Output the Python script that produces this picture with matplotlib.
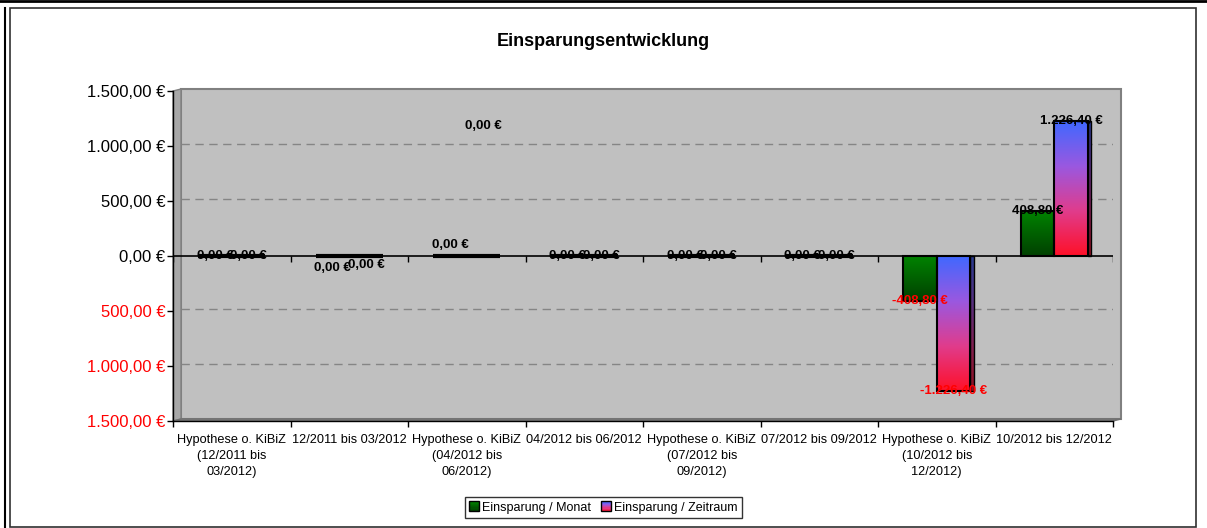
import numpy as np
import matplotlib
matplotlib.use('Agg')
import matplotlib.pyplot as plt
from matplotlib.patches import Rectangle, Polygon, Patch
from matplotlib.lines import Line2D
from matplotlib.legend_handler import HandlerBase
from matplotlib.colors import LinearSegmentedColormap
import matplotlib.transforms as mtransforms

plt.rcParams['font.family'] = ['Liberation Sans', 'DejaVu Sans']

# ---------------- data ----------------
categories = [
    "Hypothese o. KiBiZ\n(12/2011 bis\n03/2012)",
    "12/2011 bis 03/2012",
    "Hypothese o. KiBiZ\n(04/2012 bis\n06/2012)",
    "04/2012 bis 06/2012",
    "Hypothese o. KiBiZ\n(07/2012 bis\n09/2012)",
    "07/2012 bis 09/2012",
    "Hypothese o. KiBiZ\n(10/2012 bis\n12/2012)",
    "10/2012 bis 12/2012",
]
series_names = ["Einsparung / Monat", "Einsparung / Zeitraum"]
monat = [0.0, 0.0, 0.0, 0.0, 0.0, 0.0, -408.80, 408.80]
zeitraum = [0.0, 0.0, 0.0, 0.0, 0.0, 0.0, -1226.40, 1226.40]
y_ticks = [-1500, -1000, -500, 0, 500, 1000, 1500]
title = "Einsparungsentwicklung"
# data-label positions that in the reference are not at the bar end
label_pos_override = {(0, 1): -110, (1, 1): -85, (0, 2): 100, (1, 2): 1180}

# ---------------- helpers ----------------
W, H = 1207, 528
fig = plt.figure(figsize=(W / 100, H / 100), dpi=100)
fig.patch.set_facecolor('white')


def fx(x):
    return x / W


def fy(y):
    return 1 - y / H


def eur(v, signed=True):
    s = f"{abs(v):,.2f}".replace(",", "X").replace(".", ",").replace("X", ".")
    return ("-" if (signed and v < 0) else "") + s + " €"


green_cmap = LinearSegmentedColormap.from_list("g", ["#008200", "#004000"])
br_cmap = LinearSegmentedColormap.from_list("br", ["#4068FF", "#9A58E0", "#E03C8C", "#FF1028"])
br_dark = LinearSegmentedColormap.from_list("brd", ["#283A90", "#553080", "#802050", "#901020"])

# ---------------- frame (sheet) ----------------
fig.add_artist(Line2D([0, 1], [fy(1), fy(1)], transform=fig.transFigure, color='black', lw=2))
fig.add_artist(Line2D([fx(5), fx(5)], [fy(8), 0], transform=fig.transFigure, color='black', lw=1.5))
fig.add_artist(Rectangle((fx(10), fy(527)), fx(1196) - fx(10), fy(8) - fy(527),
                         transform=fig.transFigure, fill=False, edgecolor='#303030', lw=1.2))

# ---------------- 3D-ish wall ----------------
wall = Rectangle((fx(181), fy(419)), fx(1121) - fx(181), fy(89) - fy(419),
                 transform=fig.transFigure, facecolor='#C0C0C0', edgecolor='#808080', lw=1.5, zorder=-1)
fig.add_artist(wall)
side = Polygon([(fx(173), fy(91)), (fx(181), fy(89)), (fx(181), fy(419)), (fx(173), fy(421))],
               closed=True, transform=fig.transFigure, facecolor='#A8A8A8', edgecolor='#808080', lw=1, zorder=-1)
fig.add_artist(side)
floor = Polygon([(fx(173), fy(421)), (fx(181), fy(419)), (fx(1121), fy(419)), (fx(1113), fy(421))],
                closed=True, transform=fig.transFigure, facecolor='#808080', edgecolor='#707070', lw=1, zorder=-1)
fig.add_artist(floor)

# ---------------- axes ----------------
ax = fig.add_axes([fx(173), fy(421), (1113 - 173) / W, (421 - 91) / H])
ax.patch.set_visible(False)
n = len(categories)
x = np.arange(n)

off = mtransforms.ScaledTranslation(8 / 100, 2 / 100, fig.dpi_scale_trans)
for v in y_ticks:
    if v in (-1500, 0, 1500):
        continue
    ax.plot([-0.5, n - 0.5], [v, v], transform=ax.transData + off, color='#858585',
            lw=1, ls=(0, (6, 4)), zorder=0.5)

# zero line with small tick marks
ax.plot([-0.5, n - 0.5 + 8 / 117.5], [0, 0], color='black', lw=1.2, zorder=4)
ax.vlines(np.arange(-0.5, n, 1), 0, -55, color='black', lw=1, zorder=4)

w = 0.285
bars1 = ax.bar(x - w / 2, monat, w, facecolor='none', edgecolor='black', lw=1.5, zorder=3)
bars2 = ax.bar(x + w / 2, zeitraum, w, facecolor='none', edgecolor='black', lw=1.5, zorder=3)
for r in list(bars1) + list(bars2):
    if r.get_height() == 0:
        r.set_linewidth(3)
        r.set_zorder(4.5)

grad = np.linspace(0, 1, 256).reshape(-1, 1)


def fill_gradient(rect, cmap, side_cmap=None):
    h = rect.get_height()
    if h == 0:
        return
    x0 = rect.get_x()
    x1 = x0 + rect.get_width()
    lo = min(rect.get_y(), rect.get_y() + h)
    hi = max(rect.get_y(), rect.get_y() + h)
    ax.imshow(grad, cmap=cmap, extent=[x0, x1, lo, hi], aspect='auto', origin='upper',
              zorder=2.5, interpolation='bilinear')
    if side_cmap is not None:
        sw = 0.028
        ax.imshow(grad, cmap=side_cmap, extent=[x1, x1 + sw, lo, hi], aspect='auto',
                  origin='upper', zorder=2.4, interpolation='bilinear')
        ax.add_patch(Rectangle((x1, lo), sw, hi - lo, fill=False, edgecolor='black', lw=1, zorder=2.6))


for r in bars1:
    fill_gradient(r, green_cmap)
for r in bars2:
    fill_gradient(r, br_cmap, br_dark)

# data labels
for si, (vals, bars) in enumerate([(monat, bars1), (zeitraum, bars2)]):
    for ci, (v, r) in enumerate(zip(vals, bars)):
        ypos = label_pos_override.get((si, ci), v)
        cx = r.get_x() + r.get_width() / 2
        ax.text(cx, ypos, eur(v), ha='center', va='center', fontsize=9.5, fontweight='bold',
                color='#FF0000' if v < 0 else 'black', zorder=6)

ax.set_xlim(-0.5, n - 0.5)
ax.set_ylim(y_ticks[0], y_ticks[-1])

# y axis
ax.set_yticks(y_ticks)
ax.set_yticklabels([eur(v, signed=False) for v in y_ticks])
for lab, v in zip(ax.get_yticklabels(), y_ticks):
    lab.set_color('#FF0000' if v < 0 else 'black')
ax.tick_params(axis='y', direction='out', length=4, width=1, pad=1.5, labelsize=12)

# x axis: ticks at boundaries, labels at centres
ax.set_xticks(np.arange(-0.5, n, 1))
ax.set_xticklabels([])
ax.set_xticks(x, minor=True)
ax.set_xticklabels(categories, minor=True, fontsize=9.2, linespacing=1.45)
ax.tick_params(axis='x', which='major', direction='out', length=4, width=1)
ax.tick_params(axis='x', which='minor', length=0, pad=9.5)

for s in ('top', 'right'):
    ax.spines[s].set_visible(False)
for s in ('left', 'bottom'):
    ax.spines[s].set_color('black')
    ax.spines[s].set_linewidth(1)

# title
fig.text(fx(603.5), fy(42), title, ha='center', va='center', fontsize=13, fontweight='bold')


# legend with gradient swatches
class GradHandler(HandlerBase):
    def __init__(self, cmap):
        super().__init__()
        self.cmap = cmap

    def create_artists(self, legend, orig_handle, xdescent, ydescent, width, height, fontsize, trans):
        arts = []
        k = 8
        size = min(width, height)
        x0 = -xdescent + (width - size) / 2
        y0 = -ydescent + (height - size) / 2
        for i in range(k):
            c = self.cmap((i + 0.5) / k)
            arts.append(Rectangle((x0, y0 + size * (1 - (i + 1) / k)), size, size / k,
                                  facecolor=c, edgecolor='none', transform=trans))
        arts.append(Rectangle((x0, y0), size, size, fill=False, edgecolor='black', lw=1, transform=trans))
        return arts


h1, h2 = Patch(), Patch()
leg = fig.legend(handles=[h1, h2], labels=series_names,
                 handler_map={h1: GradHandler(green_cmap), h2: GradHandler(br_cmap)},
                 loc='center', bbox_to_anchor=(fx(603.5), fy(507.5)), ncol=2, fontsize=9,
                 frameon=True, fancybox=False, edgecolor='black', handlelength=0.8, handleheight=0.8,
                 handletextpad=0.25, columnspacing=0.8, borderpad=0.35, borderaxespad=0)
leg.get_frame().set_linewidth(1)

fig.savefig('out.png', dpi=100)
